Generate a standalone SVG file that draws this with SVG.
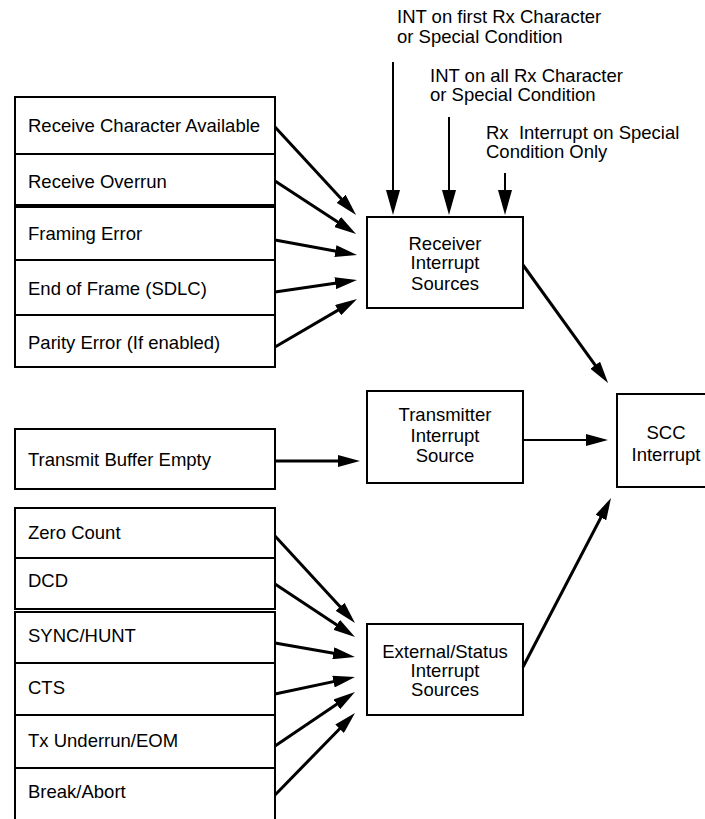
<svg xmlns="http://www.w3.org/2000/svg" width="705" height="819" viewBox="0 0 705 819">
<style>
text{font-family:"Liberation Sans",Arial,sans-serif;font-size:18.5px;fill:#000}
.c{text-anchor:middle}
.box{fill:#fff;stroke:#000;stroke-width:2}
.ln{fill:none;stroke:#000;stroke-width:3}
.ln2{fill:none;stroke:#000;stroke-width:2}
.ah{marker-end:url(#ah)}
.ahL{marker-end:url(#ahL)}
</style>
<defs>
<marker id="ah" markerUnits="userSpaceOnUse" markerWidth="22" markerHeight="12" viewBox="0 0 22 12" refX="12" refY="6" orient="auto"><path d="M0,0 L22,6 L0,12 z" fill="#000"/></marker>
<marker id="ahL" markerUnits="userSpaceOnUse" markerWidth="25" markerHeight="14" viewBox="0 0 25 14" refX="15" refY="7" orient="auto"><path d="M0,0 L25,7 L0,14 z" fill="#000"/></marker>
</defs>
<rect width="705" height="819" fill="#fff"/>

<g id="lbl-first"><text x="397" y="23">INT on first Rx Character</text><text x="397" y="43">or Special Condition</text></g>
<g id="lbl-all"><text x="430" y="82">INT on all Rx Character</text><text x="430" y="101">or Special Condition</text></g>
<g id="lbl-special"><text x="486" y="139" style="white-space:pre">Rx  Interrupt on Special</text><text x="486" y="158">Condition Only</text></g>

<g id="rx-char"><rect class="box" x="15" y="97" width="260" height="57"/><text x="28" y="132">Receive Character Available</text></g>
<g id="rx-overrun"><rect class="box" x="15" y="154" width="260" height="51"/><text x="28" y="188">Receive Overrun</text></g>
<g id="framing"><rect class="box" x="15" y="207" width="260" height="53"/><text x="28" y="240">Framing Error</text></g>
<g id="eof"><rect class="box" x="15" y="260" width="260" height="55"/><text x="28" y="295">End of Frame (SDLC)</text></g>
<g id="parity"><rect class="box" x="15" y="315" width="260" height="52"/><text x="28" y="349">Parity Error (If enabled)</text></g>

<g id="tx-empty"><rect class="box" x="15" y="429" width="260" height="60"/><text x="28" y="466">Transmit Buffer Empty</text></g>

<g id="zero"><rect class="box" x="15" y="508" width="260" height="50"/><text x="28" y="539">Zero Count</text></g>
<g id="dcd"><rect class="box" x="15" y="558" width="260" height="51"/><text x="28" y="587">DCD</text></g>
<g id="sync"><rect class="box" x="15" y="612" width="260" height="51"/><text x="28" y="642">SYNC/HUNT</text></g>
<g id="cts"><rect class="box" x="15" y="663" width="260" height="52"/><text x="28" y="694">CTS</text></g>
<g id="txund"><rect class="box" x="15" y="715" width="260" height="53"/><text x="28" y="747">Tx Underrun/EOM</text></g>
<g id="brk"><rect class="box" x="15" y="768" width="260" height="70"/><text x="28" y="798">Break/Abort</text></g>

<g id="rx-src"><rect class="box" x="367" y="217" width="156" height="91"/><text class="c" x="445" y="250">Receiver</text><text class="c" x="445" y="269">Interrupt</text><text class="c" x="445" y="290">Sources</text></g>
<g id="tx-src"><rect class="box" x="367" y="391" width="156" height="92"/><text class="c" x="445" y="421">Transmitter</text><text class="c" x="445" y="442">Interrupt</text><text class="c" x="445" y="462">Source</text></g>
<g id="ext-src"><rect class="box" x="367" y="624" width="156" height="91"/><text class="c" x="445" y="658">External/Status</text><text class="c" x="445" y="677">Interrupt</text><text class="c" x="445" y="696">Sources</text></g>
<g id="scc"><rect class="box" x="617" y="394" width="100" height="93"/><text class="c" x="666" y="439">SCC</text><text class="c" x="666" y="461">Interrupt</text></g>

<g id="connectors">
<path class="ln2 ahL" d="M393,62 L393,205" stroke-width="2.5"/>
<path class="ln2 ahL" d="M449,117 L449,205" stroke-width="2.5"/>
<path class="ln2 ahL" d="M505,173 L505,205" stroke-width="2.5"/>
<path class="ln ah" d="M275,127 L349.3,207.6"/>
<path class="ln ah" d="M275,181 L347.7,228.5"/>
<path class="ln ah" d="M275,240 L347.2,253.2"/>
<path class="ln ah" d="M275,292 L347.1,281.5"/>
<path class="ln ah" d="M275,347 L348.4,304.1"/>
<path class="ln ah" d="M275,461 L350,461"/>
<path class="ln ah" d="M275,536 L348.2,615.6"/>
<path class="ln ah" d="M275,584 L346.7,631.5"/>
<path class="ln ah" d="M275,643 L345.1,655.3"/>
<path class="ln ah" d="M275,694 L345.2,679.1"/>
<path class="ln ah" d="M275,746 L346.7,697.6"/>
<path class="ln ah" d="M275,795 L348,720.2"/>
<path class="ln ah" d="M523,265 L602.2,374.9"/>
<path class="ln2 ah" d="M523,440 L598,440"/>
<path class="ln ah" d="M523,667 L606.4,506.9"/>
</g>
</svg>
